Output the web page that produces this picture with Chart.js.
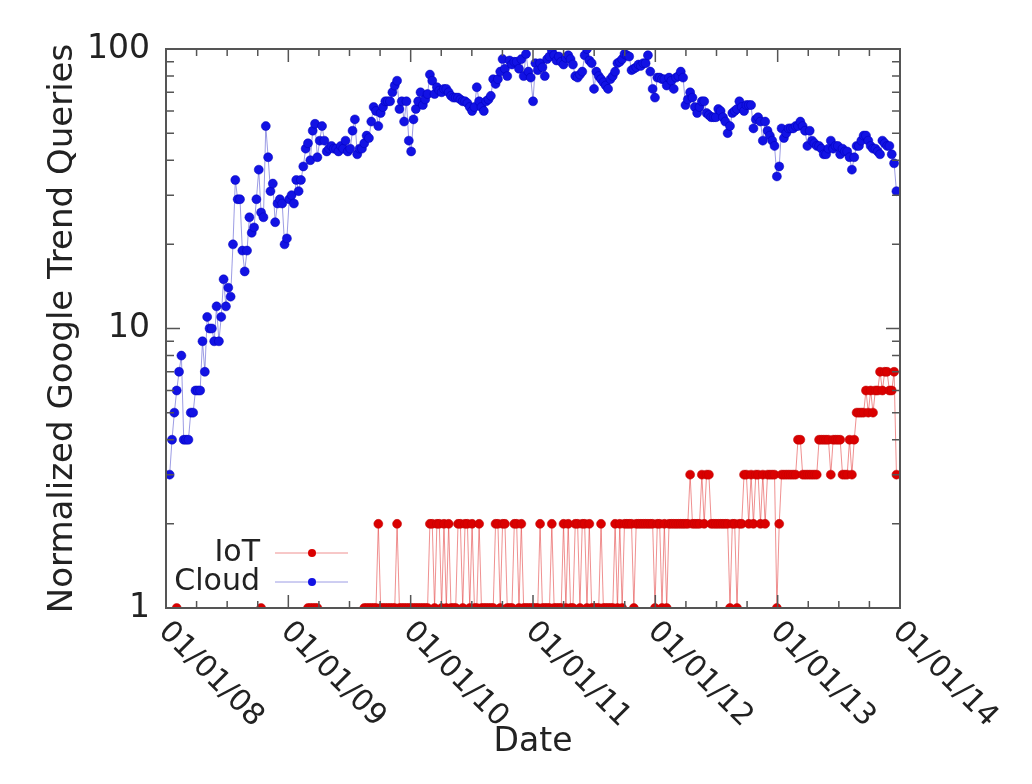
<!DOCTYPE html>
<html>
<head>
<meta charset="utf-8">
<script src="https://cdn.jsdelivr.net/npm/chart.js@4.4.1/dist/chart.umd.min.js"></script>
<style>
  html, body { margin: 0; padding: 0; background: #fff; }
  #wrap { width: 1032px; height: 784px; }
</style>
</head>
<body>
<div id="wrap"><canvas id="trendChart" width="1032" height="784"></canvas></div>
<script>
// weekly samples, first one in the first week of 2008
const startYear = 2008.03;
const weeksPerYear = 52.18;

const cloudValues = [
  3, 4, 5, 6, 7, 8, 4, 4, 4, 5,
  5, 6, 6, 6, 9, 7, 11, 10, 10, 9,
  12, 9, 11, 15, 12, 14, 13, 20, 34, 29,
  29, 19, 16, 19, 25, 22, 23, 29, 37, 26,
  25, 53, 41, 31, 33, 24, 28, 29, 28, 20,
  21, 29, 30, 28, 34, 31, 34, 38, 44, 46,
  40, 51, 54, 41, 47, 53, 47, 43, 44, 45,
  44, 44, 43, 45, 44, 47, 43, 44, 51, 56,
  42, 44, 44, 46, 49, 48, 55, 62, 60, 53,
  59, 62, 65, 65, 65, 70, 74, 77, 61, 65,
  55, 65, 47, 43, 56, 61, 65, 70, 63, 66,
  69, 81, 77, 69, 73, 71, 70, 72, 72, 70,
  68, 67, 67, 67, 66, 65, 65, 64, 62, 60,
  62, 73, 65, 62, 60, 65, 66, 68, 78, 75,
  78, 83, 92, 85, 80, 91, 88, 90, 90, 85,
  92, 80, 96, 83, 79, 65, 89, 84, 89, 86,
  80, 92, 94, 99, 95, 91, 94, 90, 88, 93,
  95, 92, 88, 80, 79, 81, 83, 95, 100, 91,
  89, 72, 83, 80, 78, 76, 74, 72, 78, 80,
  83, 89, 90, 92, 96, 95, 94, 84, 85, 86,
  88, 87, 89, 89, 95, 83, 72, 67, 79, 79,
  78, 78, 74, 79, 77, 72, 79, 80, 83, 79,
  63, 66, 70, 67, 62, 59, 62, 65, 65, 59,
  58, 57, 57, 57, 61, 60, 57, 55, 50, 53,
  59, 60, 61, 65, 62, 60, 63, 63, 63, 52,
  56, 57, 55, 47, 55, 51, 49, 47, 45, 35,
  38, 52, 48, 50, 52, 52, 52, 53, 53, 55,
  53, 51, 45, 51, 47, 46, 45, 45, 44, 42,
  42, 44, 47, 44, 45, 45, 42, 44, 43, 43,
  41, 37, 41, 45, 45, 47, 49, 49, 47, 45,
  44, 44, 43, 42, 47, 46, 45, 45, 42, 39,
  31
];

// null = zero queries that week (nothing to plot on a log axis)
const n = null;
const iotValues = [
  n, n, n, 1, n, n, n, n, n, n,
  n, n, n, n, n, n, n, n, n, n,
  n, n, n, n, n, n, n, n, n, n,
  n, n, n, n, n, n, n, n, n, 1,
  n, n, n, n, n, n, n, n, n, n,
  n, n, n, n, n, n, n, n, n, 1,
  1, 1, 1, 1, n, n, n, n, n, n,
  n, n, n, n, n, n, n, n, n, n,
  n, n, n, 1, 1, 1, 1, 1, 1, 2,
  1, 1, 1, 1, 1, 1, 1, 2, 1, 1,
  1, 1, 1, 1, 1, 1, 1, 1, 1, 1,
  1, 2, 2, 1, 2, 2, 1, 2, 1, 2,
  1, 1, 1, 2, 2, 1, 2, 2, 1, 2,
  1, 1, 2, 1, 1, 1, 1, 1, 1, 2,
  2, 1, 2, 2, 1, 1, 1, 2, 2, 1,
  2, 1, 1, 1, 1, 1, 1, 1, 2, 1,
  1, 1, 1, 2, 1, 1, 1, 1, 2, 1,
  2, 1, 1, 2, 2, 1, 2, 2, 1, 2,
  1, 1, 1, 1, 2, 1, 1, 1, 1, 1,
  2, 1, 2, 1, 2, 2, 2, 2, 1, 2,
  2, 2, 2, 2, 2, 2, 2, 1, 2, 2,
  1, 2, 1, 2, 2, 2, 2, 2, 2, 2,
  2, 2, 3, 2, 2, 2, 2, 3, 2, 3,
  3, 2, 2, 2, 2, 2, 2, 2, 2, 1,
  2, 2, 1, 2, 2, 3, 3, 2, 3, 2,
  3, 3, 2, 3, 2, 3, 3, 3, 3, 1,
  2, 3, 3, 3, 3, 3, 3, 3, 4, 4,
  3, 3, 3, 3, 3, 3, 3, 4, 4, 4,
  4, 4, 3, 4, 4, 4, 4, 3, 3, 3,
  4, 3, 4, 5, 5, 5, 5, 6, 5, 6,
  5, 6, 6, 7, 6, 7, 7, 6, 6, 7,
  3
];

const xTickYears = [2008, 2009, 2010, 2011, 2012, 2013, 2014];
const xTickLabels = ["01/01/08", "01/01/09", "01/01/10", "01/01/11", "01/01/12", "01/01/13", "01/01/14"];
const yTickValues = [1, 10, 100];
const yTickLabels = ["1", "10", "100"];

const toPoints = vals => vals.map((v, i) => ({ x: startYear + i / weeksPerYear, y: v }));

Chart.defaults.font.family = "'DejaVu Sans', sans-serif";
Chart.defaults.color = "#222";

// gnuplot-like frame: border, inward ticks on all sides, slanted date labels, key
const gnuFrame = {
  id: "gnuFrame",
  afterDraw(chart) {
    const { ctx, chartArea: a, scales: { x, y } } = chart;
    ctx.save();
    ctx.strokeStyle = "#555";
    ctx.lineWidth = 1.5;
    ctx.beginPath();
    for (let q = 0; q <= (xTickYears.length - 1) * 4; q++) {
      const px = x.getPixelForValue(xTickYears[0] + q / 4);
      const len = q % 4 === 0 ? 13 : 7;
      ctx.moveTo(px, a.bottom); ctx.lineTo(px, a.bottom - len);
      ctx.moveTo(px, a.top); ctx.lineTo(px, a.top + len);
    }
    for (let d = 1; d < 100; d *= 10) {
      for (let m = 1; m <= 10; m++) {
        const py = y.getPixelForValue(d * m);
        const len = (m === 1 || m === 10) ? 14 : 8;
        ctx.moveTo(a.left, py); ctx.lineTo(a.left + len, py);
        ctx.moveTo(a.right, py); ctx.lineTo(a.right - len, py);
      }
    }
    ctx.stroke();
    ctx.lineWidth = 2;
    ctx.strokeRect(a.left, a.top, a.width, a.height);

    // date labels, rotated clockwise
    ctx.fillStyle = "#222";
    ctx.font = "30px 'DejaVu Sans'";
    ctx.textAlign = "left";
    ctx.textBaseline = "middle";
    xTickYears.forEach((yr, i) => {
      const px = x.getPixelForValue(yr);
      ctx.save();
      ctx.translate(px - 3, a.bottom + 19);
      ctx.rotate(Math.PI / 4);
      ctx.fillText(xTickLabels[i], 0, 0);
      ctx.restore();
    });

    // key, bottom left inside the plot
    ctx.font = "30px 'DejaVu Sans'";
    ctx.textAlign = "right";
    chart.data.datasets.forEach((ds, i) => {
      const ky = 553 + i * 29;
      ctx.fillStyle = "#222";
      ctx.fillText(ds.label, 260, ky);
      ctx.strokeStyle = ds.borderColor;
      ctx.lineWidth = 1;
      ctx.beginPath();
      ctx.moveTo(275, ky); ctx.lineTo(348, ky);
      ctx.stroke();
      ctx.fillStyle = ds.pointBackgroundColor;
      ctx.beginPath();
      ctx.arc(312, ky, 4, 0, Math.PI * 2);
      ctx.fill();
    });
    ctx.restore();
  }
};

new Chart(document.getElementById("trendChart"), {
  type: "line",
  data: {
    datasets: [
      {
        label: "IoT",
        data: toPoints(iotValues),
        borderColor: "rgba(228, 70, 70, 0.6)",
        backgroundColor: "rgb(218, 0, 0)",
        pointBackgroundColor: "rgb(218, 0, 0)",
        pointBorderColor: "rgb(190, 0, 0)",
        pointBorderWidth: 0.5,
        pointRadius: 4.5,
        borderWidth: 1,
        spanGaps: false
      },
      {
        label: "Cloud",
        data: toPoints(cloudValues),
        borderColor: "rgba(90, 90, 210, 0.6)",
        backgroundColor: "rgb(18, 18, 228)",
        pointBackgroundColor: "rgb(18, 18, 228)",
        pointBorderColor: "rgb(0, 0, 185)",
        pointBorderWidth: 0.5,
        pointRadius: 4.5,
        borderWidth: 1
      }
    ]
  },
  options: {
    responsive: false,
    animation: false,
    layout: { padding: { left: 0, right: 132, top: 49, bottom: 0 } },
    plugins: { legend: { display: false }, tooltip: { enabled: false } },
    scales: {
      x: {
        type: "linear",
        min: xTickYears[0],
        max: xTickYears[xTickYears.length - 1],
        grid: { display: false, drawTicks: false },
        border: { display: false },
        ticks: { display: false },
        title: { display: true, text: "Date", font: { size: 33 }, padding: { top: 0, bottom: 22 } },
        afterFit: s => { s.height = 176; }
      },
      y: {
        type: "logarithmic",
        min: 1,
        max: 100,
        grid: { display: false, drawTicks: false },
        border: { display: false },
        afterBuildTicks: s => { s.ticks = yTickValues.map(v => ({ value: v })); },
        ticks: {
          font: { size: 33 },
          padding: 16,
          autoSkip: false,
          callback: v => yTickLabels[yTickValues.indexOf(v)] ?? ""
        },
        title: { display: true, text: "Normalized Google Trend Queries", font: { size: 34 }, padding: { top: 43, bottom: 0 } },
        afterFit: s => { s.width = 166; }
      }
    }
  },
  plugins: [gnuFrame]
});
</script>
</body>
</html>
